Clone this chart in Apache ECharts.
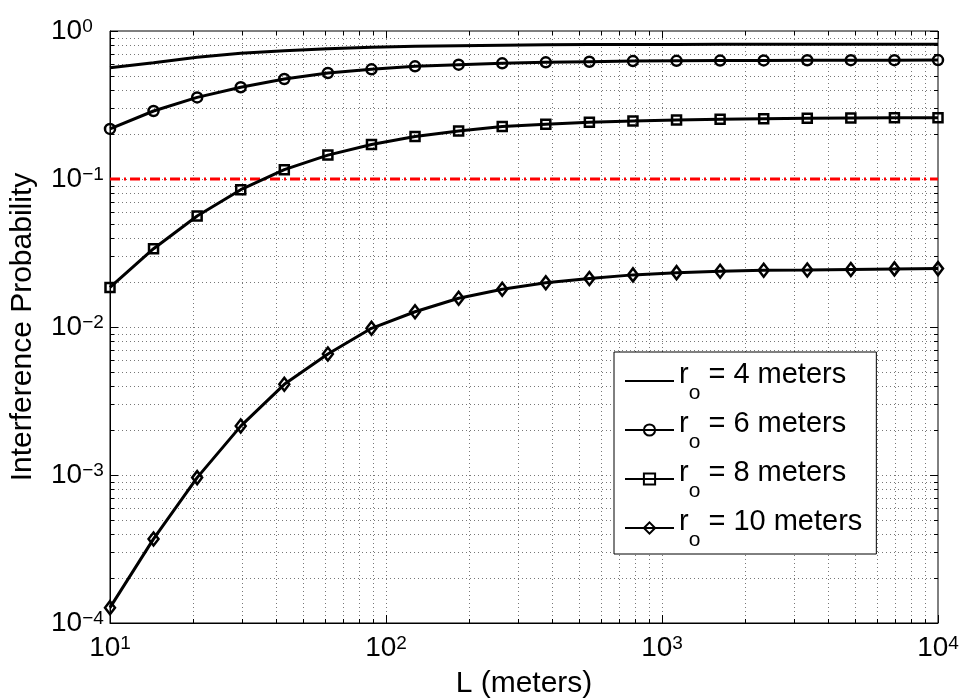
<!DOCTYPE html>
<html>
<head>
<meta charset="utf-8">
<script src="https://cdn.jsdelivr.net/npm/echarts@6/dist/echarts.min.js"></script>
<style>
html, body { margin: 0; padding: 0; background: #fff; }
#chart { width: 961px; height: 700px; }
</style>
</head>
<body>
<div id="chart"></div>
<script>
// L (meters), 20 log-spaced points
var lengths = [10, 14.38, 20.69, 29.76, 42.81, 61.58, 88.59, 127.4, 183.3, 263.7,
  379.3, 545.6, 784.8, 1129, 1624, 2336, 3360, 4833, 6952, 10000];
var radii = [4, 6, 8, 10];
var prob4 = [0.565, 0.611, 0.664, 0.707, 0.736, 0.760, 0.776, 0.788, 0.796, 0.802,
  0.806, 0.809, 0.811, 0.812, 0.813, 0.814, 0.814, 0.815, 0.815, 0.815];
var prob6 = [0.218, 0.288, 0.356, 0.417, 0.474, 0.520, 0.551, 0.577, 0.592, 0.605,
  0.614, 0.620, 0.626, 0.629, 0.631, 0.633, 0.634, 0.635, 0.635, 0.636];
var prob8 = [0.0185, 0.0338, 0.0562, 0.0847, 0.1156, 0.145, 0.171, 0.194, 0.211, 0.226,
  0.234, 0.2415, 0.2466, 0.2504, 0.253, 0.2557, 0.2573, 0.2585, 0.259, 0.259];
var prob10 = [1.27e-4, 3.70e-4, 9.6e-4, 2.14e-3, 4.10e-3, 6.57e-3, 9.8e-3, 0.01268, 0.01563, 0.0180,
  0.0199, 0.0213, 0.0225, 0.0233, 0.0238, 0.0242, 0.0243, 0.0245, 0.0247, 0.0248];
var threshold = 0.1;

var xDecades = [10, 100, 1000, 10000];
var yDecades = [1e-4, 1e-3, 1e-2, 1e-1, 1];
var minorSteps = [2, 3, 4, 5, 6, 7, 8, 9];

var FONT = '"Liberation Sans", Arial, Helvetica, sans-serif';
var xMin = 10, xMax = 10000, yMin = 1e-4, yMax = 1;

// tick / grid positions: [x, y, direction(0 = vertical line, 1 = horizontal), major]
var gridMarks = [];
xDecades.forEach(function (d, i) {
  gridMarks.push([d, yMin, 0, 1]);
  if (i < xDecades.length - 1) minorSteps.forEach(function (m) { gridMarks.push([d * m, yMin, 0, 0]); });
});
yDecades.forEach(function (d, i) {
  gridMarks.push([xMin, d, 1, 1]);
  if (i < yDecades.length - 1) minorSteps.forEach(function (m) { gridMarks.push([xMin, d * m, 1, 0]); });
});

function expLabel(v) {
  var e = Math.round(Math.log10(v));
  var s = e < 0 ? '\u2212' + (-e) : '' + e;
  return '{b|10}{s|' + s + '}';
}
var labelRich = {
  b: { fontSize: 28, fontFamily: FONT, color: '#000', lineHeight: 28, padding: [5, 0, 0, 0], verticalAlign: 'bottom' },
  s: { fontSize: 19, fontFamily: FONT, color: '#000', lineHeight: 19, verticalAlign: 'top' }
};

function renderMarks(params, api) {
  var dir = api.value(2), major = api.value(3);
  var len = major ? 8 : 4;
  var dots = { stroke: '#777', lineWidth: 1, lineDash: [1, 3] };
  var solid = { stroke: '#000', lineWidth: 1 };
  var kids = [];
  if (dir === 0) {
    var v = api.value(0);
    var b = api.coord([v, yMin]), t = api.coord([v, yMax]);
    var x = Math.round(b[0]) + 0.5;
    if (v > xMin && v < xMax) {
      kids.push({ type: 'line', shape: { x1: x, y1: t[1], x2: x, y2: b[1] }, style: dots, silent: true });
    }
    kids.push({ type: 'line', shape: { x1: x, y1: b[1], x2: x, y2: b[1] - len }, style: solid, silent: true });
    kids.push({ type: 'line', shape: { x1: x, y1: t[1], x2: x, y2: t[1] + len }, style: solid, silent: true });
  } else {
    var w = api.value(1);
    var l = api.coord([xMin, w]), r = api.coord([xMax, w]);
    var y = Math.round(l[1]) + 0.5;
    if (w > yMin && w < yMax) {
      kids.push({ type: 'line', shape: { x1: l[0], y1: y, x2: r[0], y2: y }, style: dots, silent: true });
    }
    kids.push({ type: 'line', shape: { x1: l[0], y1: y, x2: l[0] + len, y2: y }, style: solid, silent: true });
    kids.push({ type: 'line', shape: { x1: r[0], y1: y, x2: r[0] - len, y2: y }, style: solid, silent: true });
  }
  return { type: 'group', children: kids };
}

function pairs(vals) {
  return lengths.map(function (x, i) { return [x, vals[i]]; });
}

var symbols = ['none', 'circle', 'rect', 'diamond'];
var symbolSizes = [0, 10, 9, [10, 13]];
var probs = [prob4, prob6, prob8, prob10];

var series = [{
  type: 'custom',
  name: 'grid',
  renderItem: renderMarks,
  data: gridMarks,
  silent: true,
  z: 1,
  clip: false
}];
radii.forEach(function (r, i) {
  series.push({
    type: 'line',
    name: 'r' + r,
    data: pairs(probs[i]),
    symbol: symbols[i],
    symbolSize: symbolSizes[i],
    showSymbol: i > 0,
    lineStyle: { color: '#000', width: 3 },
    itemStyle: { color: 'transparent', borderColor: i > 0 ? '#000' : 'transparent', borderWidth: 2.5 },
    z: 3
  });
});
series.push({
  type: 'line',
  name: 'threshold',
  data: [[xMin, threshold], [xMax, threshold]],
  symbol: 'none',
  lineStyle: { color: '#ff0000', width: 3, type: [10, 4, 2, 4] },
  z: 2
});

var chart = echarts.init(document.getElementById('chart'));
chart.setOption({
  animation: false,
  backgroundColor: '#fff',
  grid: {
    left: 110, right: 23, top: 31, bottom: 77,
    show: true, borderColor: '#000', borderWidth: 1,
    containLabel: false, outerBoundsMode: 'none'
  },
  xAxis: {
    type: 'log', logBase: 10, min: xMin, max: xMax,
    axisLine: { show: true, lineStyle: { color: '#000', width: 1 } },
    axisTick: { show: false },
    splitLine: { show: false },
    axisLabel: { formatter: expLabel, rich: labelRich, margin: 11 },
    name: 'L (meters)', nameLocation: 'middle', nameGap: 46,
    nameTextStyle: { fontSize: 30, fontFamily: FONT, color: '#000' }
  },
  yAxis: {
    type: 'log', logBase: 10, min: yMin, max: yMax,
    axisLine: { show: true, lineStyle: { color: '#000', width: 1 } },
    axisTick: { show: false },
    splitLine: { show: false },
    axisLabel: { formatter: expLabel, rich: labelRich, margin: 59, align: 'left' },
    name: 'Interference Probability', nameLocation: 'middle', nameGap: 72,
    nameTextStyle: { fontSize: 30, fontFamily: FONT, color: '#000' }
  },
  legend: {
    data: radii.map(function (r) { return 'r' + r; }),
    orient: 'vertical',
    left: 614, top: 352,
    padding: [6, 14, 3, 10],
    itemGap: 3,
    itemWidth: 49, itemHeight: 14, itemTextGap: 5,
    backgroundColor: '#fff', borderColor: '#000', borderWidth: 1, borderRadius: 0,
    formatter: function (name) {
      return '{r|r}{o|o}{t| = ' + name.slice(1) + ' meters}';
    },
    textStyle: {
      rich: {
        r: { fontSize: 29, fontFamily: FONT, color: '#000', lineHeight: 30, padding: [0, 0, 12, 0] },
        o: { fontSize: 21, fontFamily: FONT, color: '#000', lineHeight: 17, padding: [25, 0, 0, 0] },
        t: { fontSize: 29, fontFamily: FONT, color: '#000', lineHeight: 30, padding: [0, 0, 12, 0] }
      }
    },
    selectedMode: false
  },
  series: series
});
</script>
</body>
</html>
